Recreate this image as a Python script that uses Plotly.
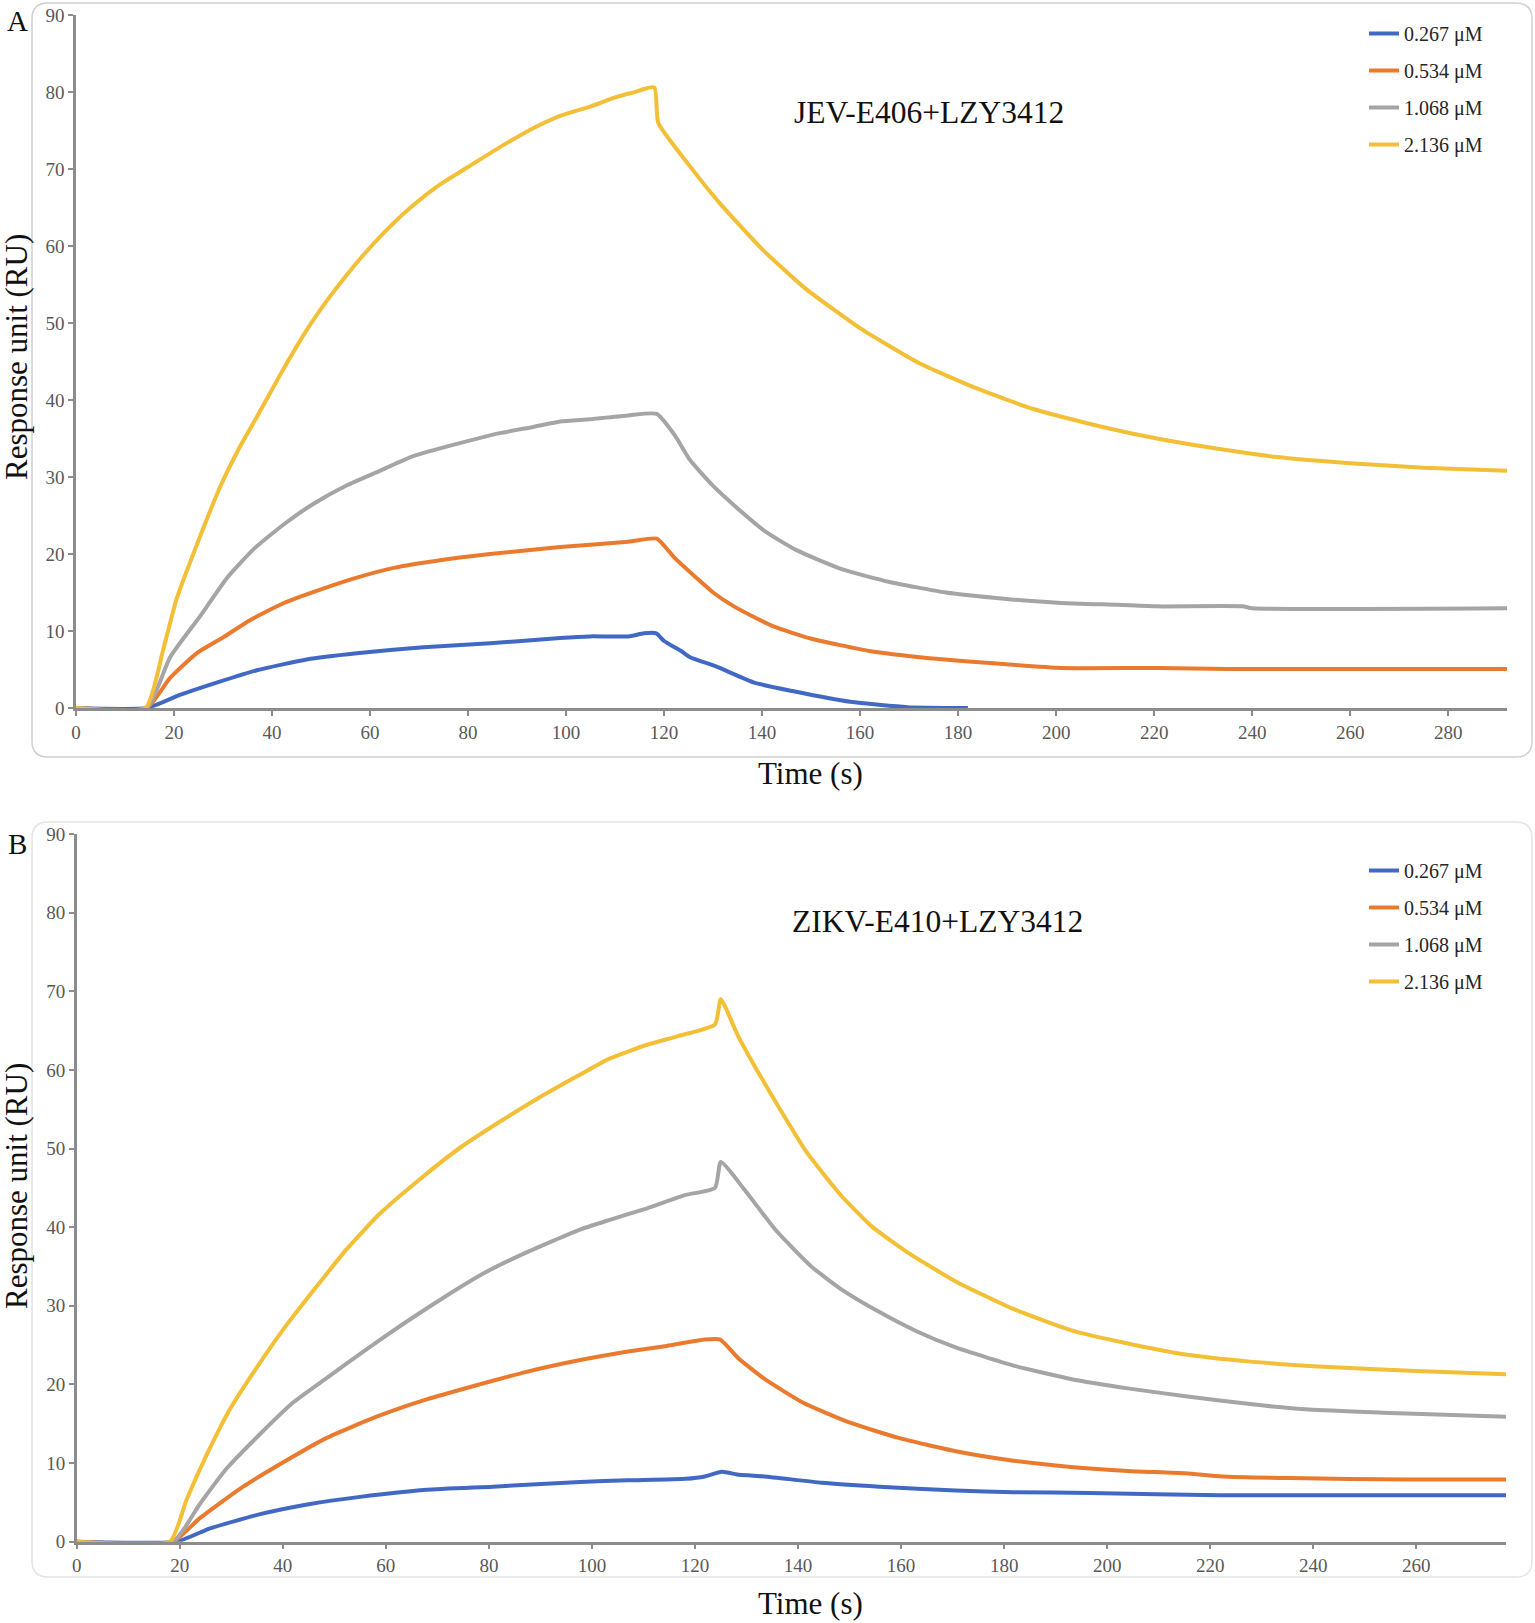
import plotly.graph_objects as go

# canvas size (px)
W, H = 1535, 1623

SERIES_NAMES = ["0.267 μM", "0.534 μM", "1.068 μM", "2.136 μM"]
SERIES_COLORS = ["#4169C4", "#E97A2E", "#A5A5A5", "#F2BF36"]

#
# Panel A : JEV-E406 + LZY3412  (time s, response RU)
#
a_blue_t = [0, 14.4, 21.2, 28.7, 36.9, 47.1, 57.3, 70.9, 84.5, 98.8, 104.9, 112.7, 115.9, 118.4,
            120, 123.5, 125.3, 130.6, 138.4, 146.2, 158, 169.7, 182]
a_blue_v = [0, 0, 1.7, 3.3, 4.9, 6.3, 7.1, 7.9, 8.4, 9.1, 9.3, 9.3, 9.7, 9.7,
            8.7, 7.4, 6.6, 5.4, 3.3, 2.2, 0.8, 0.1, 0]

a_orange_t = [0, 14.4, 19.2, 24.6, 30.1, 35.5, 42.3, 49.1, 56.6, 64.8, 74.3, 84.5, 98.8, 112.7, 118.5,
              122, 126.6, 130, 134.5, 142.3, 150.1, 161.9, 173.6, 189.3, 201, 220.6, 235, 292]
a_orange_v = [0, 0, 3.9, 7.1, 9.2, 11.4, 13.6, 15.2, 16.8, 18.2, 19.2, 20.0, 20.9, 21.6, 22.0,
              19.6, 16.9, 15.0, 13.1, 10.6, 9.0, 7.4, 6.5, 5.7, 5.2, 5.2, 5.05, 5.05]

a_gray_t = [0, 14.4, 19.2, 25.3, 30.7, 36.2, 42.3, 48.4, 55.2, 62.0, 68.8, 77.7, 86.5, 93.3, 98.8,
            104.9, 112.7, 118.5, 122.1, 125.3, 129.9, 134.5, 140.7, 147, 156.4, 165.8,
            177.5, 189.3, 201, 212.7, 220.6, 238, 240, 292]
a_gray_v = [0, 0, 6.6, 11.9, 16.8, 20.6, 23.8, 26.5, 28.9, 30.8, 32.7, 34.3, 35.7, 36.5, 37.2,
            37.5, 38.0, 38.2, 35.5, 32.2, 28.9, 26.2, 22.9, 20.5, 18.0, 16.4,
            15.0, 14.2, 13.65, 13.4, 13.2, 13.2, 12.95, 12.95]

a_yellow_t = [0, 14.2, 17.8, 20.5, 24.6, 29.4, 33.5, 36.9, 41.6, 47.1, 51.2, 55.2, 58.6, 63.4, 68.8,
              74.3, 81.1, 87.2, 93.3, 98.8, 104.9, 110, 113.5, 118, 118.8, 125.1, 131.3, 140, 148.6,
              160.3, 172, 183.8, 195.5, 208.8, 220.6, 233.7, 245, 260, 275, 292]
a_yellow_v = [0, 0, 7.6, 14.1, 21.1, 28.7, 34.0, 37.8, 43.2, 49.1, 52.9, 56.2, 58.8, 62.1, 65.3,
              68.0, 70.7, 73.1, 75.3, 76.9, 78.1, 79.3, 79.9, 80.6, 76.0, 70.5, 65.6, 59.6, 54.6,
              49.2, 44.8, 41.5, 38.8, 36.6, 35.0, 33.6, 32.6, 31.8, 31.2, 30.8]

#
# Panel B : ZIKV-E410 + LZY3412
#
b_blue_t = [0, 19.4, 25.9, 35.6, 45.3, 55.0, 67.9, 80.8, 97.7, 107, 118.2, 121.9, 125.2,
            128.6, 133.5, 144.6, 155.8, 170.6, 181.8, 196.6, 221.8, 277.4]
b_blue_v = [0, 0, 1.7, 3.5, 4.8, 5.7, 6.6, 7.0, 7.6, 7.8, 8.0, 8.3, 8.9,
            8.5, 8.3, 7.5, 7.0, 6.5, 6.3, 6.2, 5.9, 5.9]

b_orange_t = [0, 18.7, 23.9, 32.3, 40.1, 48.5, 58.2, 67.9, 77.6, 87.3, 97.7, 107,
              114.5, 121.9, 124.9, 128.3, 133.5, 140.9, 149.8, 159.5, 170.6, 181.8, 192.9, 204,
              215.2, 222.4, 235.4, 258.6, 277.4]
b_orange_v = [0, 0, 3.0, 7.0, 10.1, 13.2, 15.9, 18.1, 19.9, 21.6, 23.1, 24.2,
              24.9, 25.7, 25.7, 23.4, 20.7, 17.7, 15.2, 13.2, 11.5, 10.3, 9.5, 9.0,
              8.7, 8.3, 8.1, 7.9, 7.9]

b_gray_t = [0, 18.7, 23.9, 29.1, 35.6, 42.0, 48.5, 55.0, 62.7, 71.1, 78.9, 87.3, 97.7, 103.3,
            110.7, 118.2, 123.9, 125, 129.8, 135.7, 142.4, 148.4, 155.8, 163.2, 170.6, 181.8,
            192.9, 204, 215.2, 227.7, 239.2, 253.5, 262.5, 277.4]
b_gray_v = [0, 0, 4.8, 9.3, 13.7, 17.7, 20.8, 23.9, 27.4, 31.0, 34.1, 36.8, 39.7, 40.9,
            42.4, 44.1, 45.0, 48.3, 44.6, 39.6, 35.1, 32.1, 29.2, 26.7, 24.7, 22.4,
            20.7, 19.5, 18.5, 17.5, 16.8, 16.4, 16.2, 15.9]

b_yellow_t = [0, 18.1, 21.3, 25.2, 29.7, 34.9, 40.1, 45.9, 52.4, 58.8, 66.6, 74.4, 82.1, 89.3, 97.7,
              103.3, 110.7, 116.7, 123.9, 125, 128.3, 132, 136.5, 141.7, 148.4, 154.3, 161.7,
              170.6, 181.8, 192.9, 204, 215.2, 227.7, 240, 260, 277.4]
b_yellow_v = [0, 0, 5.3, 11.0, 16.8, 22.1, 27.0, 31.9, 37.2, 41.7, 46.1, 50.1, 53.4, 56.3, 59.4,
              61.4, 63.2, 64.3, 65.8, 69.0, 64.4, 60.0, 55.0, 49.5, 44.0, 40.1, 36.6,
              33.1, 29.6, 26.9, 25.2, 23.8, 22.9, 22.3, 21.7, 21.3]

A_SERIES = [(a_blue_t, a_blue_v), (a_orange_t, a_orange_v), (a_gray_t, a_gray_v), (a_yellow_t, a_yellow_v)]
B_SERIES = [(b_blue_t, b_blue_v), (b_orange_t, b_orange_v), (b_gray_t, b_gray_v), (b_yellow_t, b_yellow_v)]

A_XMAX = 292
B_XMAX = 277.4

SERIF = "Liberation Serif"
AXIS_GREY = "#8C8C8C"
TICK_GREY = "#595959"


def px(x):
    return x / W


def py(y):
    return 1 - y / H


def roundedBox(x0, y0, x1, y1, r=16):
    # rounded rectangle path in paper coords from pixel corners
    rx, ry = r / W, r / H
    X0, X1 = px(x0), px(x1)
    Y0, Y1 = py(y0), py(y1)   # Y0 is top
    return (f"M {X0 + rx},{Y0} L {X1 - rx},{Y0} Q {X1},{Y0} {X1},{Y0 - ry} "
            f"L {X1},{Y1 + ry} Q {X1},{Y1} {X1 - rx},{Y1} "
            f"L {X0 + rx},{Y1} Q {X0},{Y1} {X0},{Y1 + ry} "
            f"L {X0},{Y0 - ry} Q {X0},{Y0} {X0 + rx},{Y0} Z")


fig = go.Figure()

for panelSeries, xa, ya, legendName in [(A_SERIES, "x", "y", "legend"), (B_SERIES, "x2", "y2", "legend2")]:
    for i, (t, v) in enumerate(panelSeries):
        fig.add_trace(go.Scatter(
            x=t, y=v, mode="lines", name=SERIES_NAMES[i],
            line=dict(color=SERIES_COLORS[i], width=4, shape="spline", smoothing=0.5),
            xaxis=xa, yaxis=ya, legend=legendName,
            legendgroup=legendName + str(i)))

axisCommon = dict(showgrid=False, zeroline=False, showline=True, linecolor=AXIS_GREY, linewidth=2.5,
                  ticks="outside", ticklen=5, tickwidth=2, tickcolor=AXIS_GREY, automargin=False,
                  tickfont=dict(family=SERIF, size=19, color=TICK_GREY), layer="below traces")

fig.update_layout(
    xaxis=dict(axisCommon, domain=[px(76), px(1507)], range=[0, A_XMAX], dtick=20, tick0=0, anchor="y"),
    yaxis=dict(axisCommon, domain=[py(708), py(15)], range=[0, 90], dtick=10, anchor="x"),
    xaxis2=dict(axisCommon, domain=[px(76.7), px(1506)], range=[0, B_XMAX], dtick=20, tick0=0, anchor="y2"),
    yaxis2=dict(axisCommon, domain=[py(1541.7), py(834)], range=[0, 90], dtick=10, anchor="x2"),
)

legendCommon = dict(xanchor="left", yanchor="top", bgcolor="rgba(0,0,0,0)",
                    font=dict(family=SERIF, size=20, color="#262626"), tracegroupgap=8)
fig.update_layout(
    legend=dict(legendCommon, x=px(1364), y=py(14)),
    legend2=dict(legendCommon, x=px(1364), y=py(851)),
)

annots = [
    ("A", 17, 21, 29, 0),
    ("B", 17, 844, 29, 0),
    ("JEV-E406+LZY3412", 929, 113, 31.5, 0),
    ("ZIKV-E410+LZY3412", 938, 921, 31.5, 0),
    ("Time (s)", 811, 773, 31, 0),
    ("Time (s)", 811, 1603, 31, 0),
    ("Response unit (RU)", 16, 357, 31, -90),
    ("Response unit (RU)", 16, 1186, 31, -90),
]
for text, x, y, size, ang in annots:
    fig.add_annotation(text=text, x=px(x), y=py(y), xref="paper", yref="paper",
                       showarrow=False, textangle=ang, xanchor="center", yanchor="middle",
                       font=dict(family=SERIF, size=size, color="#111111"))

fig.add_shape(type="path", xref="paper", yref="paper", path=roundedBox(32, 3, 1532, 757),
              line=dict(color="#D0D0D0", width=1.5), layer="below")
fig.add_shape(type="path", xref="paper", yref="paper", path=roundedBox(32, 822, 1532, 1577),
              line=dict(color="#E4E4E4", width=1.5), layer="below")

fig.update_layout(width=W, height=H, margin=dict(l=0, r=0, t=0, b=0, pad=0, autoexpand=False),
                  paper_bgcolor="white", plot_bgcolor="white", showlegend=True)

# page body margin would shift the figure, drop it
fig.write_html("out.html", config={"displayModeBar": False},
               post_script="document.body.style.margin='0';")
